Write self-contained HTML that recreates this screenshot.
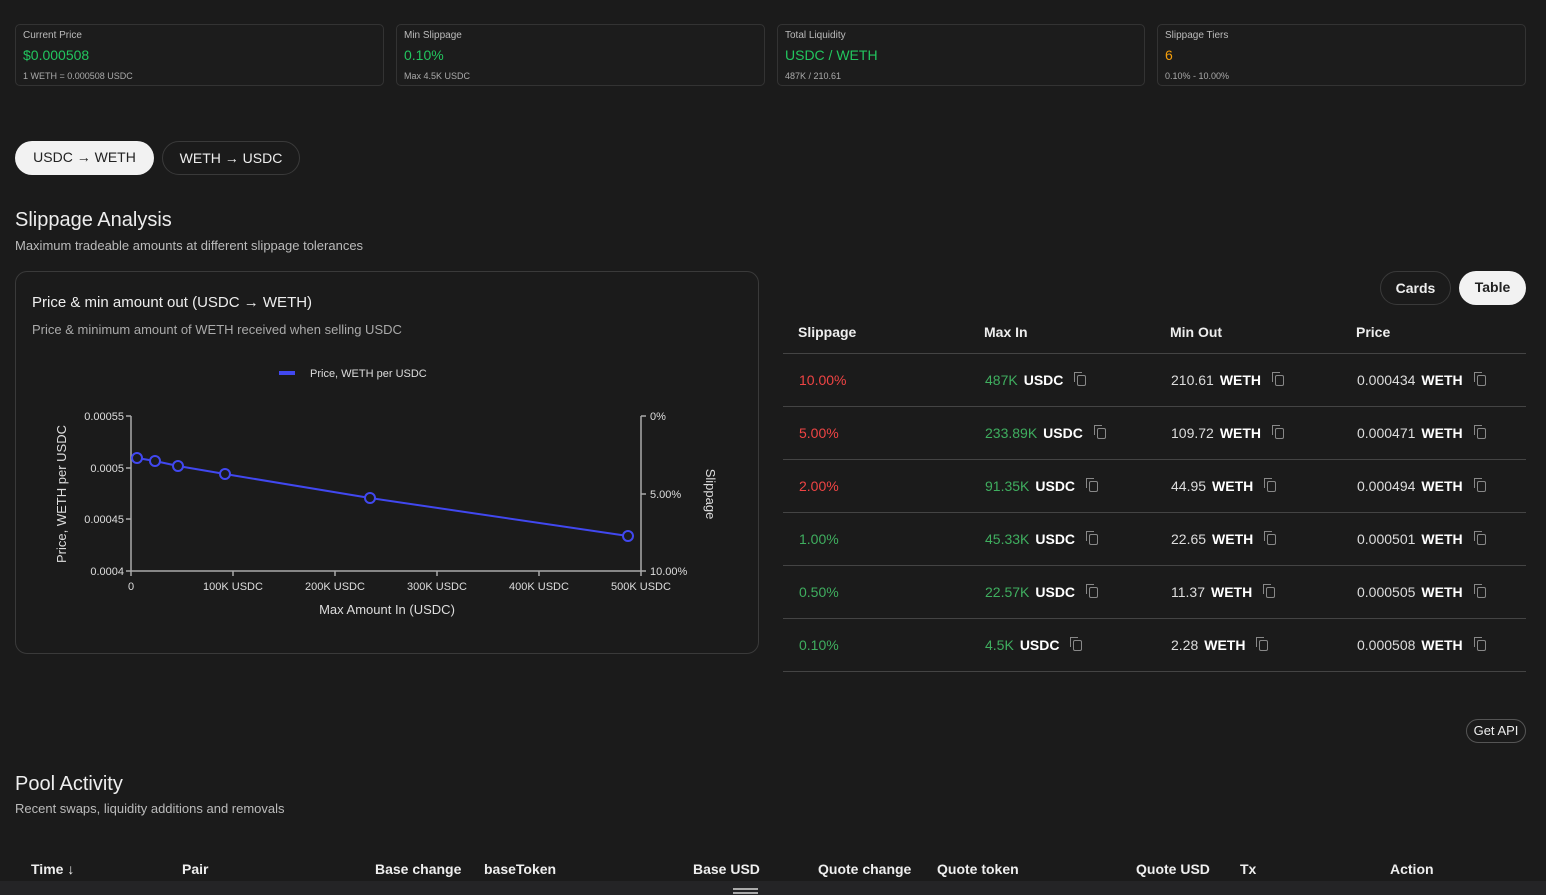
<!DOCTYPE html>
<html><head><meta charset="utf-8"><style>
*{box-sizing:border-box;margin:0;padding:0}
body{width:1546px;height:895px;background:#1b1b1b;color:#eee;font-family:"Liberation Sans",sans-serif;position:relative;overflow:hidden}
.abs{position:absolute}
.card{position:absolute;top:24px;height:62px;border:1px solid #333;border-radius:5px;background:#1c1c1c}
.card .l{position:absolute;left:7px;top:5px;font-size:10px;color:#bbb}
.card .v{position:absolute;left:7px;top:22px;font-size:14px;color:#22c55e}
.card .s{position:absolute;left:7px;top:46px;font-size:9px;color:#aaa}
.pill{position:absolute;height:34px;border-radius:17px;font-size:14px;line-height:32px;text-align:center}
.th{position:absolute;top:324px;font-size:14px;color:#eee;font-weight:bold}
.row{position:absolute;left:783px;width:743px;height:53px;border-bottom:1px solid #444}
.row span{position:absolute;top:18px;font-size:14px;white-space:nowrap}
.g{color:#3fae5f}.r{color:#ef4444}.w{color:#ddd}
b{color:#fff;margin-left:6px}
.cp{display:inline-block;width:9px;height:11px;border:1.5px solid #888;border-radius:2px;margin-left:14px;vertical-align:-1px;position:relative}
.cp:before{content:"";position:absolute;left:-4px;top:-4px;width:7px;height:9px;border-left:1.5px solid #888;border-top:1.5px solid #888}
.bh{position:absolute;top:861px;font-size:14px;font-weight:bold;color:#eee}
</style></head><body>
<div class="card" style="left:15px;width:369px"><div class="l">Current Price</div><div class="v">$0.000508</div><div class="s">1 WETH = 0.000508 USDC</div></div>
<div class="card" style="left:396px;width:369px"><div class="l">Min Slippage</div><div class="v">0.10%</div><div class="s">Max 4.5K USDC</div></div>
<div class="card" style="left:777px;width:368px"><div class="l">Total Liquidity</div><div class="v">USDC / WETH</div><div class="s">487K / 210.61</div></div>
<div class="card" style="left:1157px;width:369px"><div class="l">Slippage Tiers</div><div class="v" style="color:#f59e0b">6</div><div class="s">0.10% - 10.00%</div></div>

<div class="pill" style="left:15px;top:141px;width:139px;background:#f2f2f2;color:#222">USDC → WETH</div>
<div class="pill" style="left:162px;top:141px;width:138px;border:1px solid #3a3a3a;color:#eee">WETH → USDC</div>

<div class="abs" style="left:15px;top:209px;font-size:20px">Slippage Analysis</div>
<div class="abs" style="left:15px;top:238px;font-size:13px;color:#bbb">Maximum tradeable amounts at different slippage tolerances</div>

<div class="abs" style="left:15px;top:271px;width:744px;height:383px;border:1px solid #3a3a3a;border-radius:12px"></div>
<div class="abs" style="left:32px;top:294px;font-size:15px">Price &amp; min amount out (USDC → WETH)</div>
<div class="abs" style="left:32px;top:322px;font-size:13px;color:#aaa">Price &amp; minimum amount of WETH received when selling USDC</div>

<svg class="abs" style="left:0;top:0" width="780" height="700" font-family="Liberation Sans, sans-serif" font-size="11" fill="#ddd">
<rect x="279" y="371" width="16" height="4" fill="#4148f0"/>
<text x="310" y="377">Price, WETH per USDC</text>
<g stroke="#aaa" stroke-width="1.5" fill="none">
<path d="M131 416V571H641"/>
<path d="M641 416V571"/>
<path d="M126 416H131M126 468H131M126 519H131M126 571H131M641 416H646M641 494H646M641 571H646M131 571V576M233 571V576M335 571V576M437 571V576M539 571V576M641 571V576"/>
</g>
<g text-anchor="end"><text x="124" y="420">0.00055</text><text x="124" y="472">0.0005</text><text x="124" y="523">0.00045</text><text x="124" y="575">0.0004</text></g>
<text x="650" y="420">0%</text><text x="650" y="498">5.00%</text><text x="650" y="575">10.00%</text>
<g text-anchor="middle"><text x="131" y="590">0</text><text x="233" y="590">100K USDC</text><text x="335" y="590">200K USDC</text><text x="437" y="590">300K USDC</text><text x="539" y="590">400K USDC</text><text x="641" y="590">500K USDC</text></g>
<text x="387" y="614" text-anchor="middle" font-size="13">Max Amount In (USDC)</text>
<text transform="translate(66,494) rotate(-90)" text-anchor="middle" font-size="13">Price, WETH per USDC</text>
<text transform="translate(706,494) rotate(90)" text-anchor="middle" font-size="13">Slippage</text>
<polyline points="137,458 155,461 178,466 225,474 370,498 628,536" fill="none" stroke="#4148f0" stroke-width="2"/>
<g fill="#1b1b1b" stroke="#4148f0" stroke-width="2"><circle cx="137" cy="458" r="5"/><circle cx="155" cy="461" r="5"/><circle cx="178" cy="466" r="5"/><circle cx="225" cy="474" r="5"/><circle cx="370" cy="498" r="5"/><circle cx="628" cy="536" r="5"/></g>
</svg>

<div class="pill" style="left:1380px;top:271px;width:71px;border:1px solid #3a3a3a;color:#eee;font-weight:bold">Cards</div>
<div class="pill" style="left:1459px;top:271px;width:67px;background:#f2f2f2;color:#222;font-weight:bold">Table</div>

<div class="th" style="left:798px">Slippage</div><div class="th" style="left:984px">Max In</div><div class="th" style="left:1170px">Min Out</div><div class="th" style="left:1356px">Price</div>
<div class="abs" style="left:783px;top:353px;width:743px;border-top:1px solid #444"></div>

<div class="row" style="top:354px"><span class="r" style="left:16px">10.00%</span><span style="left:202px"><span class="g" style="position:static">487K</span><b>USDC</b><i class="cp"></i></span><span class="w" style="left:388px">210.61<b>WETH</b><i class="cp"></i></span><span class="w" style="left:574px">0.000434<b>WETH</b><i class="cp"></i></span></div>
<div class="row" style="top:407px"><span class="r" style="left:16px">5.00%</span><span style="left:202px"><span class="g" style="position:static">233.89K</span><b>USDC</b><i class="cp"></i></span><span class="w" style="left:388px">109.72<b>WETH</b><i class="cp"></i></span><span class="w" style="left:574px">0.000471<b>WETH</b><i class="cp"></i></span></div>
<div class="row" style="top:460px"><span class="r" style="left:16px">2.00%</span><span style="left:202px"><span class="g" style="position:static">91.35K</span><b>USDC</b><i class="cp"></i></span><span class="w" style="left:388px">44.95<b>WETH</b><i class="cp"></i></span><span class="w" style="left:574px">0.000494<b>WETH</b><i class="cp"></i></span></div>
<div class="row" style="top:513px"><span class="g" style="left:16px">1.00%</span><span style="left:202px"><span class="g" style="position:static">45.33K</span><b>USDC</b><i class="cp"></i></span><span class="w" style="left:388px">22.65<b>WETH</b><i class="cp"></i></span><span class="w" style="left:574px">0.000501<b>WETH</b><i class="cp"></i></span></div>
<div class="row" style="top:566px"><span class="g" style="left:16px">0.50%</span><span style="left:202px"><span class="g" style="position:static">22.57K</span><b>USDC</b><i class="cp"></i></span><span class="w" style="left:388px">11.37<b>WETH</b><i class="cp"></i></span><span class="w" style="left:574px">0.000505<b>WETH</b><i class="cp"></i></span></div>
<div class="row" style="top:619px"><span class="g" style="left:16px">0.10%</span><span style="left:202px"><span class="g" style="position:static">4.5K</span><b>USDC</b><i class="cp"></i></span><span class="w" style="left:388px">2.28<b>WETH</b><i class="cp"></i></span><span class="w" style="left:574px">0.000508<b>WETH</b><i class="cp"></i></span></div>

<div class="pill" style="left:1466px;top:719px;width:60px;height:24px;line-height:22px;border:1px solid #555;border-radius:12px;font-size:13px">Get API</div>

<div class="abs" style="left:15px;top:773px;font-size:20px">Pool Activity</div>
<div class="abs" style="left:15px;top:801px;font-size:13px;color:#bbb">Recent swaps, liquidity additions and removals</div>

<div class="bh" style="left:31px">Time ↓</div><div class="bh" style="left:182px">Pair</div><div class="bh" style="left:375px">Base change</div><div class="bh" style="left:484px">baseToken</div><div class="bh" style="left:693px">Base USD</div><div class="bh" style="left:818px">Quote change</div><div class="bh" style="left:937px">Quote token</div><div class="bh" style="left:1136px">Quote USD</div><div class="bh" style="left:1240px">Tx</div><div class="bh" style="left:1390px">Action</div>
<div class="abs" style="left:0;top:881px;width:1546px;height:14px;background:#242426"></div>
<div class="abs" style="left:733px;top:888px;width:25px;height:2px;background:#aaa"></div>
<div class="abs" style="left:733px;top:892px;width:25px;height:2px;background:#aaa"></div>
</body></html>
